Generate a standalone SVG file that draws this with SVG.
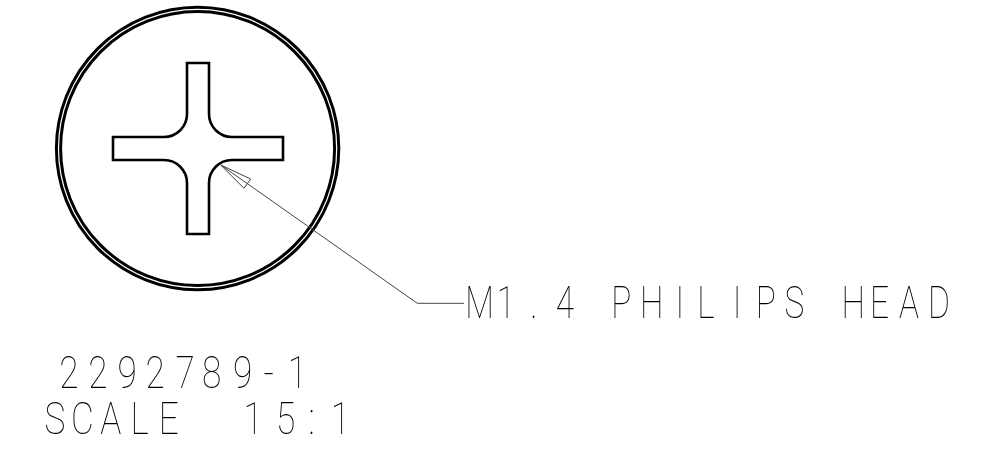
<svg xmlns="http://www.w3.org/2000/svg" width="986" height="450" viewBox="0 0 986 450">
<style>
.o{fill:none;stroke:#000;stroke-width:2.6}
.r{fill:none;stroke:#000;stroke-width:3}
.l{fill:none;stroke:#444;stroke-width:1}
.t{font-family:Roboto,"Liberation Sans",sans-serif;font-weight:100;font-size:44px;fill:#000}
</style>
<rect width="986" height="450" fill="#fff"/>
<g id="head">
<circle class="r" cx="197.6" cy="148.5" r="141.2"/>
<circle class="r" cx="197.6" cy="148.5" r="137"/>
</g>
<g id="cross">
<path class="o" d="M187 63H209V114A23 23 0 0 0 232 137H283V160H232A23 23 0 0 0 209 183V234H187V183A23 23 0 0 0 164 160H113V137H164A23 23 0 0 0 187 114Z"/>
</g>
<g id="connectors">
<path class="l" d="M464 303.3H417.3L247.3 183.6"/>
<path class="l" d="M220.7 165L250.7 179L244 188.3ZM220.7 165L247.3 183.6"/>
</g>
<g id="labels" opacity=".99">
<text class="t" transform="scale(.76 1)" y="318.3" x="612.2 653.6 697.8 731.4 764.6 804.2 842 888.9 917.5 964.3 994.3 1032.4 1077.8 1107.3 1144.8 1182.9 1221.2">M1.4 PHILIPS HEAD</text>
<text class="t" transform="scale(.8 1)" y="388.3" x="74 110.3 146.9 181.9 219.4 252.5 291.3 329.5 359.8">2292789-1</text>
<text class="t" transform="scale(.8 1)" y="434" x="55.7 88.7 125.2 163.1 198.6 245 304.5 345 385.7 413.6">SCALE 15:1</text>
</g>
</svg>
